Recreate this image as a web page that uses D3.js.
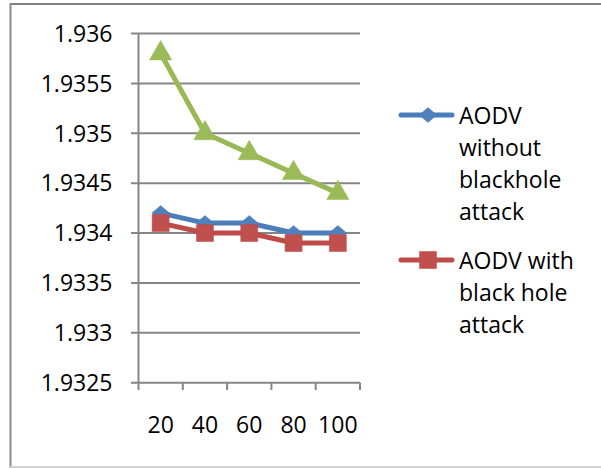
<!DOCTYPE html>
<html>
<head>
<meta charset="utf-8">
<script src="https://cdn.jsdelivr.net/npm/d3@7"></script>
<style>
  html, body { margin: 0; padding: 0; background: #fff; }
  svg { display: block; }
  text { font-family: "Open Sans", "Noto Sans", sans-serif; fill: #000; }
</style>
</head>
<body>
<svg id="chart" width="601" height="468"></svg>
<script>
const categories = ["20", "40", "60", "80", "100"];
const yTicks = [1.9325, 1.933, 1.9335, 1.934, 1.9345, 1.935, 1.9355, 1.936];
const yTickLabels = ["1.9325", "1.933", "1.9335", "1.934", "1.9345", "1.935", "1.9355", "1.936"];
const seriesWithout = [1.9342, 1.9341, 1.9341, 1.9340, 1.9340];
const seriesWith = [1.9341, 1.9340, 1.9340, 1.9339, 1.9339];
const seriesThird = [1.9358, 1.9350, 1.9348, 1.9346, 1.9344];
const legendWithout = ["AODV", "without", "blackhole", "attack"];
const legendWith = ["AODV with", "black hole", "attack"];

const svg = d3.select("#chart");
const fontSize = 23;

// outer frame
svg.append("line").attr("x1", 10).attr("x2", 601).attr("y1", 4).attr("y2", 4)
  .attr("stroke", "#808080").attr("stroke-width", 2);
svg.append("line").attr("x1", 10.5).attr("x2", 10.5).attr("y1", 3).attr("y2", 468)
  .attr("stroke", "#8a8a8a").attr("stroke-width", 2);
svg.append("line").attr("x1", 10).attr("x2", 601).attr("y1", 467).attr("y2", 467)
  .attr("stroke", "#d0d0d0").attr("stroke-width", 2);

const x = d3.scaleBand().domain(categories).range([138.5, 360]).paddingInner(0).paddingOuter(0);
const y = d3.scaleLinear().domain([1.9325, 1.936]).range([382.7, 33.5]);

const gridColor = "#868686";

// gridlines (including left tick)
svg.append("g").selectAll("line").data(yTicks).join("line")
  .attr("x1", 131).attr("x2", 360)
  .attr("y1", d => y(d)).attr("y2", d => y(d))
  .attr("stroke", gridColor).attr("stroke-width", 2);

// y axis line
svg.append("line").attr("x1", 138.5).attr("x2", 138.5)
  .attr("y1", y(1.936)).attr("y2", 390)
  .attr("stroke", gridColor).attr("stroke-width", 2);

// x axis ticks at band boundaries
const bounds = categories.map(c => x(c)).concat([x(categories[categories.length - 1]) + x.bandwidth()]);
svg.append("g").selectAll("line").data(bounds.slice(1)).join("line")
  .attr("x1", d => d).attr("x2", d => d)
  .attr("y1", y(1.9325)).attr("y2", 390)
  .attr("stroke", gridColor).attr("stroke-width", 2);

// y tick labels
svg.append("g").selectAll("text").data(yTicks).join("text")
  .attr("x", 112.5).attr("y", d => y(d)).attr("dy", "0.36em")
  .attr("text-anchor", "end").attr("font-size", fontSize)
  .text((d, i) => yTickLabels[i]);

// x tick labels
svg.append("g").selectAll("text").data(categories).join("text")
  .attr("x", d => x(d) + x.bandwidth() / 2).attr("y", 432.5)
  .attr("text-anchor", "middle").attr("font-size", fontSize)
  .text(d => d);

const cx = c => x(c) + x.bandwidth() / 2;

function markerTransform(shape) {
  return shape === d3.symbolDiamond2 ? " scale(1,0.85)" : "";
}

function drawSeries(values, lineColor, fillColor, shape, size) {
  const pts = values.map((v, i) => [cx(categories[i]), y(v)]);
  svg.append("path").datum(pts)
    .attr("d", d3.line())
    .attr("fill", "none").attr("stroke", lineColor)
    .attr("stroke-width", 5).attr("stroke-linejoin", "round").attr("stroke-linecap", "round");
  const sym = d3.symbol().type(shape).size(size);
  svg.append("g").selectAll("path").data(pts).join("path")
    .attr("transform", d => `translate(${d[0]},${d[1]})` + markerTransform(shape))
    .attr("d", sym)
    .attr("fill", fillColor).attr("stroke", lineColor).attr("stroke-width", 0.5);
}

const blueLine = "#4A7EBB", blueFill = "#4F81BD";
const redLine = "#BE4B48", redFill = "#C0504D";
const greenLine = "#98B954", greenFill = "#9BBB59";

drawSeries(seriesThird, greenLine, greenFill, d3.symbolTriangle, 215);
drawSeries(seriesWithout, blueLine, blueFill, d3.symbolDiamond2, 200);
drawSeries(seriesWith, redLine, redFill, d3.symbolSquare, 290);

// legend
function legendItem(lineY, lineColor, fillColor, shape, size, lines, firstBaseline) {
  svg.append("line").attr("x1", 401).attr("x2", 452).attr("y1", lineY).attr("y2", lineY)
    .attr("stroke", lineColor).attr("stroke-width", 5).attr("stroke-linecap", "round");
  svg.append("path")
    .attr("transform", `translate(428,${lineY})` + markerTransform(shape))
    .attr("d", d3.symbol().type(shape).size(size)())
    .attr("fill", fillColor).attr("stroke", lineColor).attr("stroke-width", 0.5);
  const t = svg.append("text").attr("x", 459).attr("y", firstBaseline).attr("font-size", fontSize);
  t.selectAll("tspan").data(lines).join("tspan")
    .attr("x", 459).attr("dy", (d, i) => i === 0 ? 0 : 32.3)
    .text(d => d);
}
legendItem(115, blueLine, blueFill, d3.symbolDiamond2, 200, legendWithout, 123.5);
legendItem(260, redLine, redFill, d3.symbolSquare, 290, legendWith, 268.5);
</script>
</body>
</html>
